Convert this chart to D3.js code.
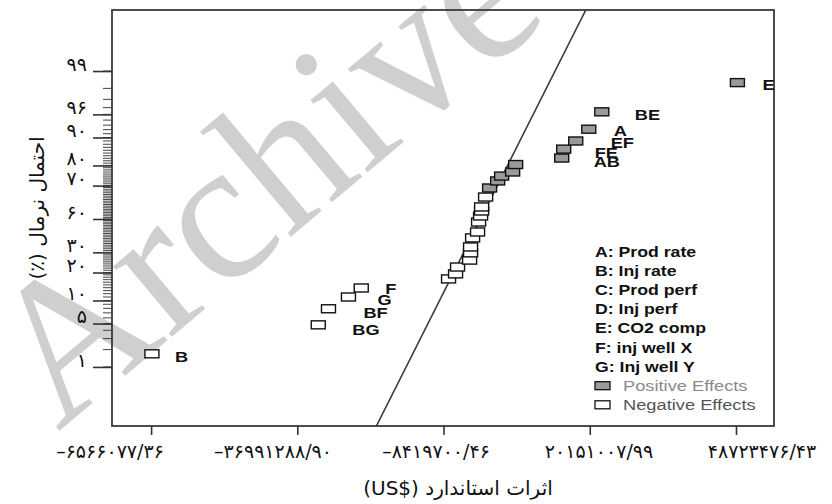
<!DOCTYPE html>
<html>
<head>
<meta charset="utf-8">
<script src="https://cdn.jsdelivr.net/npm/d3@7"></script>
<style>
  body { margin: 0; background: #fff; }
  svg { display: block; }
</style>
</head>
<body>
<script>
// effects (US$) and their normal % probability
var effectNames = ["B", "BG", "BF", "G", "F", "", "", "", "", "", "", "", "", "", "", "", "", "", "", "", "", "", "", "AB", "FE", "EF", "A", "BE", "E"];
var effectValues = [-65.4e6, -32.9e6, -30.9e6, -27.0e6, -24.5e6, -7.44e6, -6.07e6, -5.68e6, -3.33e6, -3.14e6, -3.14e6, -2.74e6, -1.77e6, -1.57e6, -1.18e6, -0.98e6, -0.98e6, -0.2e6, 0.58e6, 2.15e6, 2.93e6, 5.08e6, 5.67e6, 14.67e6, 15.06e6, 17.41e6, 19.96e6, 22.5e6, 49.0e6];
var normalProb = [1.7, 4.8, 7.9, 11.0, 13.9, 17.3, 19.4, 22.5, 25.9, 29.7, 33.0, 38.3, 41.9, 48.1, 51.9, 55.0, 57.5, 63.5, 68.7, 72.5, 75.0, 77.0, 80.4, 83.1, 86.4, 89.0, 92.1, 95.4, 98.4];

var xTickValues = [-65562877.36, -36991288.90, -8419700.46, 20151007.99, 48723476.43];
var xTickLabels = ["–۶۵۶۶۰۷۷/۳۶", "–۳۶۹۹۱۲۸۸/۹۰", "–۸۴۱۹۷۰۰/۴۶", "۲۰۱۵۱۰۰۷/۹۹", "۴۸۷۲۳۴۷۶/۴۳"];
var yTickProbs = [99, 95, 90, 80, 70, 50, 30, 20, 10, 5, 1];
var yTickLabels = ["۹۹", "۹۶", "۹۰", "۸۰", "۷۰", "۶۰", "۳۰", "۲۰", "۱۰", "۵", "۱"];

var legendItems = ["A: Prod rate", "B: Inj rate", "C: Prod perf", "D: Inj perf", "E: CO2 comp", "F: inj well X", "G: Inj well  Y"];

// normal fit line: effect = mean + sd * z
var fitMean = -1.18e6, fitSd = 6.255e6;

// inverse normal cdf (Acklam)
function probit(p) {
  var a = [-3.969683028665376e+01, 2.209460984245205e+02, -2.759285104469687e+02, 1.383577518672690e+02, -3.066479806614716e+01, 2.506628277459239e+00];
  var b = [-5.447609879822406e+01, 1.615858368580409e+02, -1.556989798598866e+02, 6.680131188771972e+01, -1.328068155288572e+01];
  var c = [-7.784894002430293e-03, -3.223964580411365e-01, -2.400758277161838e+00, -2.549732539343734e+00, 4.374664141464968e+00, 2.938163982698783e+00];
  var d = [7.784695709041462e-03, 3.224671290700398e-01, 2.445134137142996e+00, 3.754408661907416e+00];
  var q, r;
  if (p < 0.02425) {
    q = Math.sqrt(-2 * Math.log(p));
    return (((((c[0]*q+c[1])*q+c[2])*q+c[3])*q+c[4])*q+c[5]) / ((((d[0]*q+d[1])*q+d[2])*q+d[3])*q+1);
  } else if (p > 1 - 0.02425) {
    q = Math.sqrt(-2 * Math.log(1 - p));
    return -(((((c[0]*q+c[1])*q+c[2])*q+c[3])*q+c[4])*q+c[5]) / ((((d[0]*q+d[1])*q+d[2])*q+d[3])*q+1);
  }
  q = p - 0.5; r = q * q;
  return (((((a[0]*r+a[1])*r+a[2])*r+a[3])*r+a[4])*r+a[5])*q / (((((b[0]*r+b[1])*r+b[2])*r+b[3])*r+b[4])*r+1);
}

var W = 832, H = 504;
var pL = 112, pR = 774, pT = 10, pB = 426;

var svg = d3.select("body").append("svg").attr("width", W).attr("height", H);
svg.append("rect").attr("width", W).attr("height", H).attr("fill", "#fff");

var x = d3.scaleLinear().domain([-73.2e6, 56.15e6]).range([pL, pR]);
var zScale = d3.scaleLinear().domain([-3.255, 3.286]).range([pB, pT]);
function yp(pct) { return zScale(probit(pct / 100)); }

// watermark
svg.append("text")
  .attr("transform", "translate(58,432) rotate(-40)")
  .attr("font-family", "Liberation Serif, serif")
  .attr("font-size", 200)
  .attr("fill", "#cfcfcf")
  .text("Archive");

// frame
svg.append("rect")
  .attr("x", pL).attr("y", pT)
  .attr("width", pR - pL).attr("height", pB - pT)
  .attr("fill", "none").attr("stroke", "#3a3a3a").attr("stroke-width", 1.8);

// y axis: minor ticks every 1%, major ticks at labelled probs
var minor = d3.range(1, 100);
svg.append("g").selectAll("line").data(minor).enter().append("line")
  .attr("x1", pL - 9).attr("x2", pL)
  .attr("y1", function(d) { return yp(d); }).attr("y2", function(d) { return yp(d); })
  .attr("stroke", "#444").attr("stroke-width", 1);

var yAxis = d3.axisLeft(zScale)
  .tickValues(yTickProbs.map(function(p) { return probit(p / 100); }))
  .tickFormat(function(d, i) { return yTickLabels[i]; })
  .tickSize(19).tickPadding(6);
var gy = svg.append("g").attr("transform", "translate(" + pL + ",0)").call(yAxis);
gy.select(".domain").remove();
gy.selectAll(".tick line").attr("stroke", "#333").attr("stroke-width", 1.6);
gy.selectAll(".tick text")
  .attr("font-family", "DejaVu Sans, sans-serif").attr("font-size", 19)
  .attr("fill", "#111").attr("dy", "-0.05em");

// x axis
var xAxis = d3.axisBottom(x).tickValues(xTickValues).tickFormat("").tickSize(9);
var gx = svg.append("g").attr("transform", "translate(0," + pB + ")").call(xAxis);
gx.select(".domain").remove();
gx.selectAll(".tick line").attr("stroke", "#333").attr("stroke-width", 1.6);

var labelPos = d3.scalePoint().domain(xTickLabels).range([110, 762]);
svg.append("g").selectAll("text").data(xTickLabels).enter().append("text")
  .attr("x", function(d) { return labelPos(d); })
  .attr("y", 458)
  .attr("text-anchor", "middle")
  .attr("direction", "ltr")
  .attr("font-family", "DejaVu Sans, sans-serif").attr("font-size", 19)
  .attr("fill", "#111")
  .text(function(d) { return d; });

// axis titles
svg.append("text")
  .attr("x", 458).attr("y", 495)
  .attr("text-anchor", "middle").attr("direction", "rtl")
  .attr("font-family", "DejaVu Sans, sans-serif").attr("font-size", 20)
  .attr("fill", "#111")
  .text("اثرات استاندارد (US$\u200E)");

svg.append("text")
  .attr("transform", "translate(44,208) rotate(-90)")
  .attr("text-anchor", "middle").attr("direction", "rtl")
  .attr("font-family", "DejaVu Sans, sans-serif").attr("font-size", 20)
  .attr("fill", "#111")
  .text("احتمال نرمال (٪)");

// fit line
svg.append("clipPath").attr("id", "plotclip").append("rect")
  .attr("x", pL).attr("y", pT).attr("width", pR - pL).attr("height", pB - pT);
svg.append("line")
  .attr("clip-path", "url(#plotclip)")
  .attr("x1", x(fitMean + fitSd * zScale.domain()[0])).attr("y1", zScale(zScale.domain()[0]))
  .attr("x2", x(fitMean + fitSd * zScale.domain()[1])).attr("y2", zScale(zScale.domain()[1]))
  .attr("stroke", "#3a3a3a").attr("stroke-width", 1.6);

// points
var pts = effectValues.map(function(v, i) { return {v: v, p: normalProb[i], name: effectNames[i]}; });
var bw = 14, bh = 8;
svg.append("g").selectAll("rect").data(pts).enter().append("rect")
  .attr("x", function(d) { return x(d.v) - bw / 2; })
  .attr("y", function(d) { return yp(d.p) - bh / 2; })
  .attr("width", bw).attr("height", bh)
  .attr("fill", function(d) { return d.v > 0 ? "#9a9a9a" : "#fff"; })
  .attr("stroke", "#111").attr("stroke-width", 1.4);

// point labels (the original's font is stretched sideways)
var nudge = {B: [23, 8], BG: [34, 10], BF: [35, 9], G: [29, 8], F: [24, 6], E: [25, 7], BE: [33, 8], A: [25, 7], EF: [35, 7], FE: [31, 9], AB: [32, 9]};
svg.append("g").selectAll("text").data(pts.filter(function(d) { return d.name; })).enter().append("text")
  .attr("transform", function(d) {
    var n = nudge[d.name] || [24, 6];
    return "translate(" + (x(d.v) + n[0]) + "," + (yp(d.p) + n[1]) + ") scale(1.3,1)";
  })
  .attr("font-family", "Liberation Sans, Arial, sans-serif").attr("font-weight", "bold")
  .attr("font-size", 14).attr("fill", "#111")
  .text(function(d) { return d.name; });

// legend
var lg = svg.append("g").attr("font-family", "Liberation Sans, Arial, sans-serif").attr("font-weight", "bold").attr("font-size", 14.5);
lg.selectAll("text.item").data(legendItems).enter().append("text")
  .attr("class", "item")
  .attr("transform", function(d, i) { return "translate(595," + (257 + i * 19.1) + ") scale(1.22,1)"; })
  .attr("fill", "#111")
  .text(function(d) { return d; });
var effKeys = [{t: "Positive Effects", fill: "#9a9a9a", col: "#8a8a8a"}, {t: "Negative Effects", fill: "#fff", col: "#555"}];
effKeys.forEach(function(k, i) {
  var yb = 257 + (7 + i) * 19.1;
  lg.append("rect").attr("x", 595).attr("y", yb - 9).attr("width", 15).attr("height", 8)
    .attr("fill", k.fill).attr("stroke", "#111").attr("stroke-width", 1.3);
  lg.append("text").attr("transform", "translate(623," + yb + ") scale(1.26,1)")
    .attr("fill", k.col).attr("font-weight", "normal").text(k.t);
});
</script>
</body>
</html>
